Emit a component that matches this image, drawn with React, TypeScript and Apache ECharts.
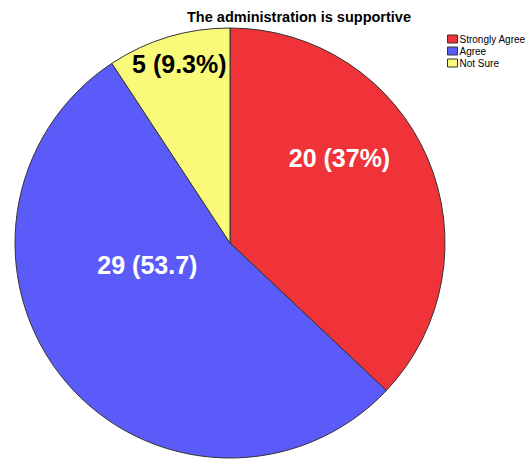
import React, { useEffect, useRef } from "react";
import * as echarts from "echarts";

const categories = ["Strongly Agree", "Agree", "Not Sure"];
const counts = [20, 29, 5];
const labelTexts = ["20 (37%)", "29 (53.7)", "5 (9.3%)"];
const colors = ["#F03338", "#5B5BFA", "#FAFA7A"];
const labelColors = ["#ffffff", "#ffffff", "#000000"];
const labelShift = [
  [8, -41],
  [2, -49],
  [-19, -73],
];

export default function App() {
  const ref = useRef<HTMLDivElement>(null);
  useEffect(() => {
    const chart = echarts.init(ref.current!, null, { renderer: "svg" });
    chart.setOption({
      animation: false,
      backgroundColor: "#ffffff",
      title: {
        text: "The administration is supportive",
        left: 299,
        top: 9,
        padding: 0,
        textAlign: "center",
        textStyle: { fontFamily: "Liberation Sans", fontSize: 14.5, fontWeight: "bold", color: "#000" },
      },
      legend: {
        orient: "vertical",
        left: 447,
        top: 34,
        padding: 0,
        itemWidth: 10,
        itemHeight: 8,
        itemGap: 2,
        icon: "rect",
        itemStyle: { borderColor: "#333", borderWidth: 1 },
        textStyle: { fontFamily: "Liberation Sans", fontSize: 10, lineHeight: 8, color: "#000", padding: [0, 0, 0, -3] },
        data: categories,
      },
      series: [
        {
          type: "pie",
          center: [230, 243],
          radius: 215,
          startAngle: 90,
          clockwise: true,
          label: {
            show: true,
            position: "inside",
            fontFamily: "Liberation Sans",
            fontSize: 25,
            fontWeight: "bold",
            formatter: (p: any) => labelTexts[p.dataIndex],
          },
          labelLayout: (p: any) => ({ dx: labelShift[p.dataIndex][0], dy: labelShift[p.dataIndex][1] }),
          itemStyle: { borderColor: "#333", borderWidth: 1 },
          emphasis: { disabled: true },
          data: categories.map((c, i) => ({
            name: c,
            value: counts[i],
            itemStyle: { color: colors[i], borderColor: "#333", borderWidth: 1 },
            label: { color: labelColors[i] },
          })),
        },
      ],
    });
    return () => chart.dispose();
  }, []);
  return <div ref={ref} style={{ width: 526, height: 459, position: "absolute", left: 0, top: 0 }} />;
}
